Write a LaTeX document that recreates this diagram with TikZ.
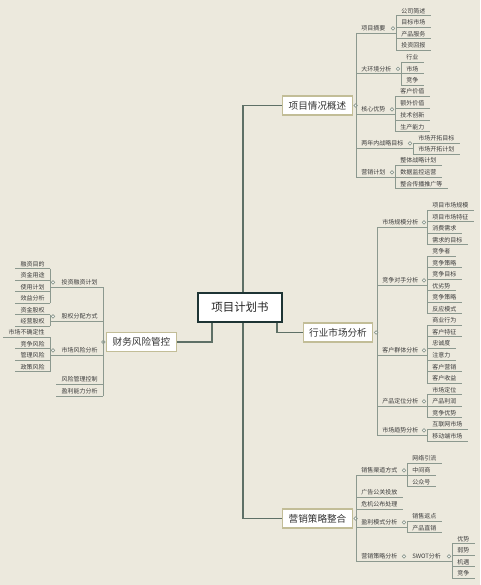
\documentclass[tikz,border=0pt]{standalone}
\usepackage{fontspec}
\setmainfont{Noto Sans CJK SC}
\usetikzlibrary{calc}
\definecolor{bgc}{HTML}{ECE9DD}
\definecolor{lnc}{HTML}{8C998F}
\definecolor{trunk}{HTML}{5E7066}
\definecolor{boxb}{HTML}{C2BD97}
\definecolor{cbd}{HTML}{1E3434}
\definecolor{txt}{HTML}{3C3C3C}
\pgfdeclarelayer{bg}\pgfdeclarelayer{ln}\pgfsetlayers{bg,ln,main}
\tikzset{
 leaf/.style={font=\fontsize{4.5pt}{5pt}\selectfont, text=txt, inner xsep=3.75pt, inner ysep=1.1pt, text height=3.9pt, text depth=0.5pt},
 ulline/.style={draw=lnc, line width=0.6pt},
 fdot/.style={circle, draw=lnc, fill=white, inner sep=0pt, minimum size=2.6pt, line width=0.5pt},
 topic/.style={draw=boxb, fill=white, line width=1pt, font=\fontsize{7.2pt}{8pt}\selectfont, text=black!80, inner xsep=4.5pt, minimum height=14.25pt},
 central/.style={draw=cbd, fill=white, line width=1.6pt, font=\fontsize{8.6pt}{9pt}\selectfont, text=black!85, minimum width=63pt, minimum height=21.75pt},
 trunkline/.style={draw=trunk, line width=1pt},
}
\newcommand\mRL[4]{\node[leaf,anchor=south west] (#1) at (#2,#3) {#4}; \draw[ulline] (#1.south west) -- (#1.south east);}
\newcommand\mLL[4]{\node[leaf,anchor=south east] (#1) at (#2,#3) {#4}; \draw[ulline] (#1.south east) -- (#1.south west);}
\newcommand\mRP[5]{\node[leaf,anchor=south west] (#1) at (#2,#3) {#4}; \coordinate (#1b) at (#5,#3); \draw[ulline] (#1.south west) -- (#1b); \node[fdot,xshift=-2.25pt] (#1o) at (#1.center -| #1b) {};}
\newcommand\mLP[5]{\node[leaf,anchor=south east] (#1) at (#2,#3) {#4}; \coordinate (#1b) at (#5,#3); \draw[ulline] (#1.south east) -- (#1b); \node[fdot,xshift=2.25pt] (#1o) at (#1.center -| #1b) {};}
\begin{document}
\begin{tikzpicture}[x=0.75pt,y=-0.75pt]
\begin{pgfonlayer}{bg}
\fill[bgc] (0,0) rectangle (480,585);
\end{pgfonlayer}
\useasboundingbox (0,0) rectangle (480,585);

\node[central] (c) at (240,307.5) {项目计划书};
\node[topic] (m1) at (317.5,105.5) {项目情况概述};
\node[topic] (m2) at (338,332.5) {行业市场分析};
\node[topic] (m3) at (317.5,518.5) {营销策略整合};
\node[topic] (m4) at (141.5,342) {财务风险管控};

\begin{pgfonlayer}{ln}
\draw[trunkline] (m1.west) -| ($(c.center)+(3,0)$) |- (m3.west);
\draw[trunkline] ($(c.south west)+(15,0)$) |- (m4.east);
\draw[trunkline] ($(c.south east)+(-6,0)$) |- (m2.west);
\end{pgfonlayer}

\node[fdot,xshift=2pt] (m1o) at (m1.east) {};
\node[fdot,xshift=2pt] (m2o) at (m2.east) {};
\node[fdot,xshift=2pt] (m3o) at (m3.east) {};
\node[fdot,xshift=-2pt] (m4o) at (m4.west) {};

% branch 1
\mRP{a1}{356}{33}{项目摘要}{396}
\mRL{a11}{396}{15.5}{公司简述}
\mRL{a12}{396}{27}{目标市场}
\mRL{a13}{396}{38.5}{产品服务}
\mRL{a14}{396}{50}{投资回报}
\draw[ulline] (a11.south west) -- (a14.south west);
\mRP{a2}{356}{73.5}{大环境分析}{401}
\mRL{a21}{401}{62}{行业}
\mRL{a22}{401}{73.5}{市场}
\mRL{a23}{401}{85}{竞争}
\draw[ulline] (a21.south west) -- (a23.south west);
\mRP{a3}{356}{114}{核心优势}{395}
\mRL{a31}{395}{96}{客户价值}
\mRL{a32}{395}{108}{额外价值}
\mRL{a33}{395}{120}{技术创新}
\mRL{a34}{395}{131.5}{生产能力}
\draw[ulline] (a31.south west) -- (a34.south west);
\mRP{a4}{356}{148}{两年内战略目标}{413}
\mRL{a41}{413}{143}{市场开拓目标}
\mRL{a42}{413}{154}{市场开拓计划}
\draw[ulline] (a41.south west) -- (a42.south west);
\mRP{a5}{356}{177}{营销计划}{395}
\mRL{a51}{395}{165}{整体战略计划}
\mRL{a52}{395}{177}{数据监控运营}
\mRL{a53}{395}{188.5}{整合传播推广等}
\draw[ulline] (a51.south west) -- (a53.south west);
\draw[ulline] (a1.south west) -- (a5.south west);

% branch 2
\mRP{b1}{377}{227}{市场规模分析}{427}
\mRL{b11}{427}{210}{项目市场规模}
\mRL{b12}{427}{221.5}{项目市场特征}
\mRL{b13}{427}{233}{消费需求}
\mRL{b14}{427}{244.5}{需求的目标}
\draw[ulline] (b11.south west) -- (b14.south west);
\mRP{b2}{377}{285}{竞争对手分析}{427}
\mRL{b21}{427}{256}{竞争者}
\mRL{b22}{427}{267.5}{竞争策略}
\mRL{b23}{427}{279}{竞争目标}
\mRL{b24}{427}{290.5}{优劣势}
\mRL{b25}{427}{302}{竞争策略}
\mRL{b26}{427}{313.5}{反应模式}
\draw[ulline] (b21.south west) -- (b26.south west);
\mRP{b3}{377}{355}{客户群体分析}{427}
\mRL{b31}{427}{325}{商业行为}
\mRL{b32}{427}{336.5}{客户特征}
\mRL{b33}{427}{348}{忠诚度}
\mRL{b34}{427}{360}{注意力}
\mRL{b35}{427}{371.5}{客户营销}
\mRL{b36}{427}{383}{客户收益}
\draw[ulline] (b31.south west) -- (b36.south west);
\mRP{b4}{377}{406}{产品定位分析}{427}
\mRL{b41}{427}{394.5}{市场定位}
\mRL{b42}{427}{406}{产品利润}
\mRL{b43}{427}{417.5}{竞争优势}
\draw[ulline] (b41.south west) -- (b43.south west);
\mRP{b5}{377}{435}{市场趋势分析}{427}
\mRL{b51}{427}{429}{互联网市场}
\mRL{b52}{427}{441}{移动端市场}
\draw[ulline] (b51.south west) -- (b52.south west);
\draw[ulline] (b1.south west) -- (b5.south west);

% branch 3
\mRP{c1}{356}{475}{销售渠道方式}{407}
\mRL{c11}{407}{463}{网络引流}
\mRL{c12}{407}{475}{中间商}
\mRL{c13}{407}{486.5}{公众号}
\draw[ulline] (c11.south west) -- (c13.south west);
\mRL{c2}{356}{497}{广告公关投放}
\mRL{c3}{356}{509}{危机公布处理}
\mRP{c4}{356}{527}{盈利模式分析}{407}
\mRL{c41}{407}{521}{销售返点}
\mRL{c42}{407}{532.5}{产品直销}
\draw[ulline] (c41.south west) -- (c42.south west);
\mRP{c5}{356}{561}{营销策略分析}{407}
\mRP{c51}{407}{561}{SWOT分析}{452}
\mRL{c511}{452}{543.5}{优势}
\mRL{c512}{452}{555}{弱势}
\mRL{c513}{452}{566.5}{机遇}
\mRL{c514}{452}{578}{竞争}
\draw[ulline] (c511.south west) -- (c514.south west);
\draw[ulline] (c1.south west) -- (c5.south west);

% branch 4
\mLP{d1}{103}{287}{投资融资计划}{50}
\mLL{d11}{50}{268.5}{融资目的}
\mLL{d12}{50}{280}{资金用途}
\mLL{d13}{50}{291.5}{使用计划}
\mLL{d14}{50}{303}{效益分析}
\draw[ulline] (d11.south east) -- (d14.south east);
\mLP{d2}{103}{321}{股权分配方式}{50}
\mLL{d21}{50}{314.5}{资金股权}
\mLL{d22}{50}{326}{经营股权}
\draw[ulline] (d21.south east) -- (d22.south east);
\mLP{d3}{103}{355}{市场风险分析}{50}
\mLL{d31}{50}{337}{市场不确定性}
\mLL{d32}{50}{348.5}{竞争风险}
\mLL{d33}{50}{360}{管理风险}
\mLL{d34}{50}{371.5}{政策风险}
\draw[ulline] (d31.south east) -- (d34.south east);
\mLL{d4}{103}{384}{风险管理控制}
\mLL{d5}{103}{396}{盈利能力分析}
\draw[ulline] (d1.south east) -- (d5.south east);
\end{tikzpicture}
\end{document}
